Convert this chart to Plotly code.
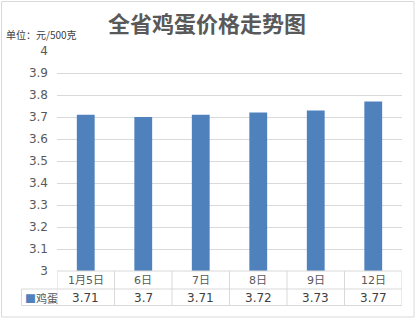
import plotly.graph_objects as go

categories = ["1月5日", "6日", "7日", "8日", "9日", "12日"]
egg_prices = [3.71, 3.7, 3.71, 3.72, 3.73, 3.77]
value_labels = ["3.71", "3.7", "3.71", "3.72", "3.73", "3.77"]
series_name = "鸡蛋"
y_ticks = [3, 3.1, 3.2, 3.3, 3.4, 3.5, 3.6, 3.7, 3.8, 3.9, 4]
y_tick_labels = ["3", "3.1", "3.2", "3.3", "3.4", "3.5", "3.6", "3.7", "3.8", "3.9", "4"]

BAR = "#4F81BD"
GRID = "#D9D9D9"
TXT = "#595959"
FONT = "Noto Sans CJK SC, Noto Sans, sans-serif"
NUMFONT = "DejaVu Sans, Noto Sans CJK SC, sans-serif"

W, H = 416, 320
L, R, T, B = 57, 14, 51, 49
pw, ph = W - L - R, H - T - B


def py(ypx):
    return (H - B - ypx) / ph


def px(xpx):
    return (xpx - L) / pw


fig = go.Figure()
fig.add_trace(go.Bar(x=list(range(len(categories))), y=egg_prices, marker=dict(color=BAR, line=dict(width=0)),
                     name=series_name, hoverinfo="x+y"))

shapes = []
# outer border
shapes.append(dict(type="rect", xref="paper", yref="paper", x0=px(1.5), x1=px(414), y0=py(317), y1=py(1.5),
                   line=dict(color="#D9D9D9", width=1)))
# table horizontal lines
row1_bottom = py(289)
row2_bottom = py(305.5)
shapes.append(dict(type="line", xref="paper", yref="paper", x0=0, x1=1, y0=0, y1=0, line=dict(color=GRID, width=1)))
shapes.append(dict(type="line", xref="paper", yref="paper", x0=px(21.5), x1=1, y0=row1_bottom, y1=row1_bottom,
                   line=dict(color=GRID, width=1)))
shapes.append(dict(type="line", xref="paper", yref="paper", x0=px(21.5), x1=1, y0=row2_bottom, y1=row2_bottom,
                   line=dict(color=GRID, width=1)))
# vertical lines
for i in range(len(categories) + 1):
    shapes.append(dict(type="line", xref="x", yref="paper", x0=i - 0.5, x1=i - 0.5, y0=0, y1=row2_bottom,
                       line=dict(color=GRID, width=1)))
shapes.append(dict(type="line", xref="paper", yref="paper", x0=px(21.5), x1=px(21.5), y0=row1_bottom, y1=row2_bottom,
                   line=dict(color=GRID, width=1)))

annotations = []
annotations.append(dict(text="<b>全省鸡蛋价格走势图</b>", xref="paper", yref="paper", x=px(207), y=py(22),
                        showarrow=False, font=dict(family=FONT, size=22, color=TXT), xanchor="center", yanchor="middle"))
annotations.append(dict(text="单位：元/500克", xref="paper", yref="paper", x=px(4), y=py(35),
                        showarrow=False, font=dict(family="Noto Sans CJK SC, serif", size=10, color="#404040"),
                        xanchor="left", yanchor="middle"))
for i, (c, v) in enumerate(zip(categories, value_labels)):
    annotations.append(dict(text=c, xref="x", yref="paper", x=i, y=py(280.5), showarrow=False,
                            font=dict(family=NUMFONT, size=11, color=TXT), xanchor="center", yanchor="middle"))
    annotations.append(dict(text=v, xref="x", yref="paper", x=i, y=py(297.5), showarrow=False,
                            font=dict(family=NUMFONT, size=12, color="#404040"), xanchor="center", yanchor="middle"))
annotations.append(dict(text=f'<span style="color:{BAR}">■</span>{series_name}', xref="paper", yref="paper",
                        x=px(23), y=py(297.5), showarrow=False, font=dict(family=FONT, size=11, color=TXT),
                        xanchor="left", yanchor="middle"))

fig.update_layout(
    width=W, height=H,
    margin=dict(l=L, r=R, t=T, b=B),
    paper_bgcolor="white", plot_bgcolor="white",
    showlegend=False,
    bargap=0.69,
    shapes=shapes,
    annotations=annotations,
    xaxis=dict(range=[-0.5, len(categories) - 0.5], showticklabels=False, showgrid=False, zeroline=False,
               showline=False, fixedrange=True),
    yaxis=dict(range=[3, 4], tickvals=y_ticks, ticktext=y_tick_labels, showgrid=True, gridcolor=GRID,
               gridwidth=1, zeroline=False, showline=False, ticks="", ticklabelstandoff=8,
               tickfont=dict(family=NUMFONT, size=12, color=TXT), fixedrange=True),
)

fig.write_html("out.html")
